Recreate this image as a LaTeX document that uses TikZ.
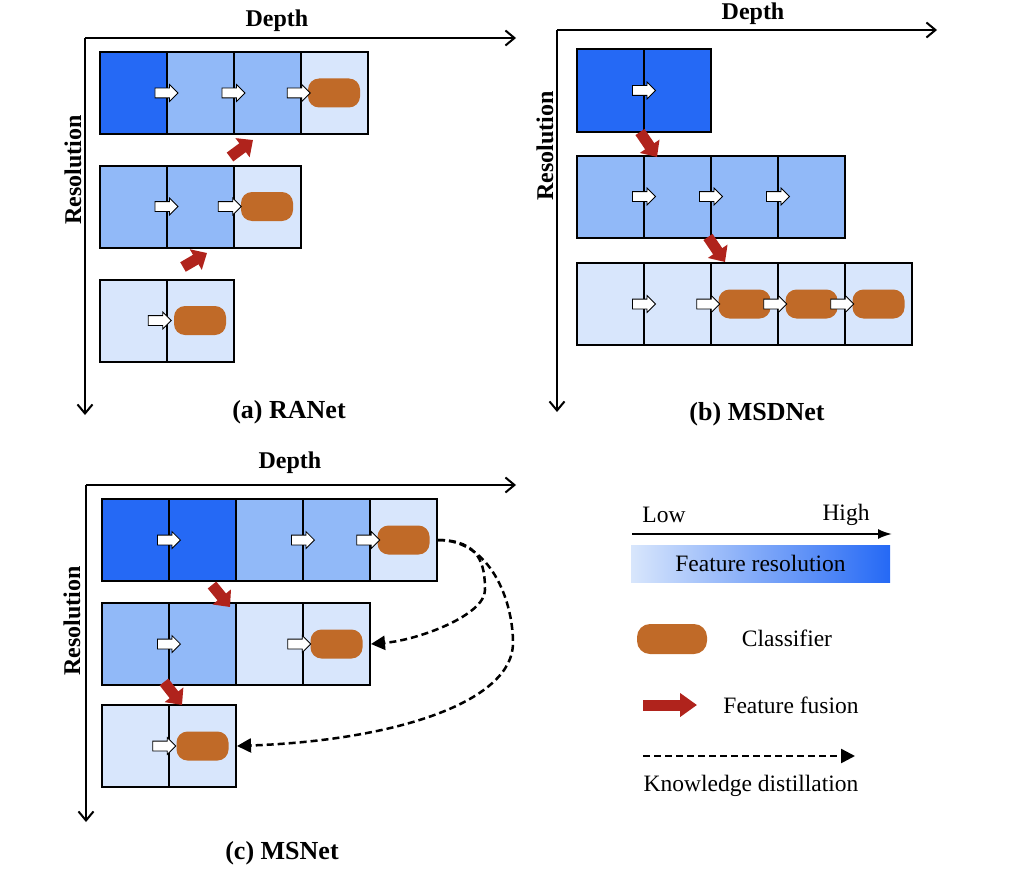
\documentclass[tikz,border=0pt]{standalone}
\usepackage{fontspec}
\setmainfont{Liberation Serif}
\usetikzlibrary{arrows.meta,shapes.arrows}

\definecolor{resHigh}{RGB}{37,105,245}
\definecolor{resMid}{RGB}{145,185,248}
\definecolor{resLow}{RGB}{216,230,252}
\definecolor{clfOrange}{RGB}{192,106,40}
\definecolor{fusionRed}{RGB}{176,35,28}

\begin{document}
\begin{tikzpicture}[x=1pt,y=-1pt,
  cellbox/.style={draw,line width=2pt,minimum width=67pt,minimum height=82pt,inner sep=0pt},
  clf/.style={fill=clfOrange,rounded corners=11pt,minimum width=52pt,minimum height=29pt,inner sep=0pt},
  flow/.style={single arrow,draw,fill=white,line width=0.8pt,minimum height=23pt,
    inner xsep=0pt,inner ysep=4.5pt,single arrow head extend=3.5pt,anchor=tip},
  fusion/.style={color=fusionRed,line width=11pt,-{Triangle[length=13pt,width=23pt]}},
  kd/.style={line width=2.5pt,dash pattern=on 7pt off 4pt,-{Triangle[length=14pt,width=14pt]}},
  axis/.style={line width=2pt,-{Straight Barb[length=9pt,width=15pt]}},
  axlabel/.style={font=\bfseries\fontsize{24}{28}\selectfont},
  caption/.style={font=\bfseries\fontsize{26}{30}\selectfont},
  keytext/.style={font=\fontsize{23.5}{28}\selectfont}]
  \useasboundingbox (0,0) rectangle (1016,872);

  % (a) RANet
  \coordinate (oa) at (85,38);
  \draw[axis] (oa) -- +(431,0);
  \draw[axis] (oa) -- +(0,377);
  \node[axlabel] (da) at (277,21) {Depth};
  \node[axlabel,rotate=90] (ra) at (73,170) {Resolution};
  \foreach \c [count=\i] in {resHigh,resMid,resMid,resLow}
    \node[cellbox,fill=\c] (a1\i) at (67*\i+66,93) {};
  \foreach \c [count=\i] in {resMid,resMid,resLow}
    \node[cellbox,fill=\c] (a2\i) at (67*\i+66,206.5) {};
  \foreach \c [count=\i] in {resLow,resLow}
    \node[cellbox,fill=\c] (a3\i) at (67*\i+66,320.5) {};
  \node[clf] (ka1) at (a14) {};
  \node[clf] (ka2) at (a23) {};
  \node[clf] (ka3) at (a32) {};
  \node[flow] (fa1) at ([xshift=11pt]a11.east) {};
  \node[flow] (fa2) at ([xshift=11pt]a12.east) {};
  \node[flow] (fa3) at ([xshift=3pt]ka1.west) {};
  \node[flow] (fa4) at ([xshift=11pt]a21.east) {};
  \node[flow] (fa5) at ([xshift=1pt]ka2.west) {};
  \node[flow] (fa6) at ([xshift=-2pt]ka3.west) {};
  \coordinate (ua1) at (230,157); \coordinate (ua2) at (253,140);
  \coordinate (ua3) at (183,267); \coordinate (ua4) at (207,253);
  \draw[fusion] (ua1) -- (ua2);
  \draw[fusion] (ua3) -- (ua4);
  \node[caption] (capa) at (289,412) {(a) RANet};

  % (b) MSDNet
  \coordinate (ob) at (557,30);
  \draw[axis] (ob) -- +(380,0);
  \draw[axis] (ob) -- +(0,382);
  \node[axlabel] (db) at (753,14) {Depth};
  \node[axlabel,rotate=90] (rb) at (545,146) {Resolution};
  \foreach \c [count=\i] in {resHigh,resHigh}
    \node[cellbox,fill=\c] (b1\i) at (67*\i+543.5,90.5) {};
  \foreach \c [count=\i] in {resMid,resMid,resMid,resMid}
    \node[cellbox,fill=\c] (b2\i) at (67*\i+543.5,196.5) {};
  \foreach \c [count=\i] in {resLow,resLow,resLow,resLow,resLow}
    \node[cellbox,fill=\c] (b3\i) at (67*\i+543.5,304) {};
  \node[clf] (kb1) at (b33) {};
  \node[clf] (kb2) at (b34) {};
  \node[clf] (kb3) at (b35) {};
  \node[flow] (fb1) at ([xshift=11pt]b11.east) {};
  \node[flow] (fb2) at ([xshift=11pt]b21.east) {};
  \node[flow] (fb3) at ([xshift=11pt]b22.east) {};
  \node[flow] (fb4) at ([xshift=11pt]b23.east) {};
  \node[flow] (fb5) at ([xshift=11pt]b31.east) {};
  \node[flow] (fb6) at ([xshift=2pt]kb1.west) {};
  \node[flow] (fb7) at ([xshift=2pt]kb2.west) {};
  \node[flow] (fb8) at ([xshift=2pt]kb3.west) {};
  \coordinate (ub1) at (640,132); \coordinate (ub2) at (657,157);
  \coordinate (ub3) at (708,237); \coordinate (ub4) at (725,262);
  \draw[fusion] (ub1) -- (ub2);
  \draw[fusion] (ub3) -- (ub4);
  \node[caption] (capb) at (757,414) {(b) MSDNet};

  % (c) MSNet
  \coordinate (oc) at (86,485);
  \draw[axis] (oc) -- +(430,0);
  \draw[axis] (oc) -- +(0,337);
  \node[axlabel] (dc) at (290,463) {Depth};
  \node[axlabel,rotate=90] (rc) at (72,621) {Resolution};
  \foreach \c [count=\i] in {resHigh,resHigh,resMid,resMid,resLow}
    \node[cellbox,fill=\c] (c1\i) at (67*\i+68.5,540) {};
  \foreach \c [count=\i] in {resMid,resMid,resLow,resLow}
    \node[cellbox,fill=\c] (c2\i) at (67*\i+68.5,644) {};
  \foreach \c [count=\i] in {resLow,resLow}
    \node[cellbox,fill=\c] (c3\i) at (67*\i+68.5,746) {};
  \node[clf] (kc1) at (c15) {};
  \node[clf] (kc2) at (c24) {};
  \node[clf] (kc3) at (c32) {};
  \node[flow] (fc1) at ([xshift=11pt]c11.east) {};
  \node[flow] (fc2) at ([xshift=11pt]c13.east) {};
  \node[flow] (fc3) at ([xshift=3pt]kc1.west) {};
  \node[flow] (fc4) at ([xshift=11pt]c21.east) {};
  \node[flow] (fc5) at ([xshift=1pt]kc2.west) {};
  \node[flow] (fc6) at (kc3.west) {};
  \coordinate (uc1) at (212,585); \coordinate (uc2) at (230,607);
  \coordinate (uc3) at (164,682); \coordinate (uc4) at (182,705);
  \draw[fusion] (uc1) -- (uc2);
  \draw[fusion] (uc3) -- (uc4);
  \coordinate (kdm1) at (485,590);
  \coordinate (kdm2) at (513,643);
  \draw[kd] (c15.east) .. controls +(42,0) and +(0,-25) .. (kdm1)
    .. controls +(0,25) and +(48,-4) .. (c24.east);
  \draw[kd] (c15.east) .. controls +(52,0) and +(0,-43) .. (kdm2)
    .. controls +(0,57) and +(164,-6) .. (c32.east);
  \node[caption] (capc) at (282,853) {(c) MSNet};

  % legend
  \coordinate (lo) at (632,534); \coordinate (hi) at (892,534);
  \draw[line width=2pt,-{Latex[length=14pt,width=10pt]}] (lo) -- (hi);
  \node[keytext] (tlow) at (664,515) {Low};
  \node[keytext] (thigh) at (846,515) {High};
  \node[keytext,minimum width=259pt,minimum height=37pt,inner sep=0pt,
    left color=resLow,right color=resHigh] (fres) at (760.5,563.5) {Feature resolution};
  \node[clf,minimum width=70pt,minimum height=30pt,rounded corners=13pt] (kclf) at (672,639) {};
  \node[keytext] (tclf) at (787,638) {Classifier};
  \coordinate (fk1) at (643,705); \coordinate (fk2) at (697,705);
  \draw[fusion,-{Triangle[length=17pt,width=23pt]}] (fk1) -- (fk2);
  \node[keytext] (tfus) at (791,705) {Feature fusion};
  \coordinate (kd1) at (643,756); \coordinate (kd2) at (855,756);
  \draw[kd] (kd1) -- (kd2);
  \node[keytext] (tkd) at (751,786) {Knowledge distillation};
\end{tikzpicture}
\end{document}
